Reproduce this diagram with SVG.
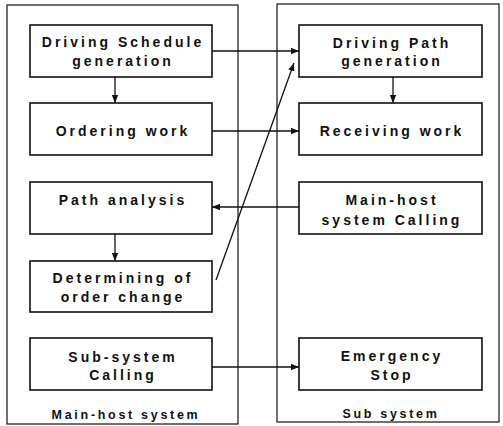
<svg xmlns="http://www.w3.org/2000/svg" width="503" height="426" viewBox="0 0 503 426">
<style>
.cont{fill:none;stroke:#111;stroke-width:1.2}
.box{fill:#fff;stroke:#111;stroke-width:1.6}
.t{font-family:"Liberation Sans",Arial,sans-serif;font-size:14px;font-weight:bold;letter-spacing:3px;fill:#111;text-anchor:middle}
.lbl{font-family:"Liberation Sans",Arial,sans-serif;font-size:12.5px;font-weight:bold;letter-spacing:2.7px;fill:#111;text-anchor:middle}
.c{fill:none;stroke:#111;stroke-width:1.3}
</style>
<defs>
<marker id="ah" viewBox="0 0 10 10" refX="10" refY="5" markerWidth="8" markerHeight="8" markerUnits="userSpaceOnUse" orient="auto">
<path d="M0,1 L10,5 L0,9 Z" fill="#111"/>
</marker>
</defs>
<rect width="503" height="426" fill="#fff"/>
<g id="main-host-system">
<rect class="cont" x="7" y="5" width="231" height="419"/>
<text class="lbl" x="126" y="419">Main-host system</text>
</g>
<g id="sub-system">
<rect class="cont" x="277" y="4" width="222" height="418"/>
<text class="lbl" x="391" y="418">Sub system</text>
</g>
<g id="driving-schedule">
<rect class="box" x="30" y="25" width="182" height="52"/>
<text class="t" x="123" y="47">Driving Schedule</text>
<text class="t" x="123" y="66">generation</text>
</g>
<g id="ordering-work">
<rect class="box" x="30" y="103" width="182" height="52"/>
<text class="t" x="123" y="136">Ordering work</text>
</g>
<g id="path-analysis">
<rect class="box" x="30" y="182" width="182" height="52"/>
<text class="t" x="123" y="205">Path analysis</text>
</g>
<g id="determining">
<rect class="box" x="30" y="261" width="182" height="51"/>
<text class="t" x="123" y="283">Determining of</text>
<text class="t" x="123" y="302">order change</text>
</g>
<g id="subsystem-calling">
<rect class="box" x="30" y="338" width="182" height="52"/>
<text class="t" x="123" y="362">Sub-system</text>
<text class="t" x="123" y="380">Calling</text>
</g>
<g id="driving-path">
<rect class="box" x="299" y="25" width="183" height="52"/>
<text class="t" x="392" y="48">Driving Path</text>
<text class="t" x="392" y="66">generation</text>
</g>
<g id="receiving-work">
<rect class="box" x="299" y="103" width="183" height="52"/>
<text class="t" x="392" y="136">Receiving work</text>
</g>
<g id="mainhost-calling">
<rect class="box" x="299" y="182" width="183" height="52"/>
<text class="t" x="392" y="205">Main-host</text>
<text class="t" x="392" y="225">system Calling</text>
</g>
<g id="emergency-stop">
<rect class="box" x="299" y="338" width="183" height="52"/>
<text class="t" x="392" y="361">Emergency</text>
<text class="t" x="392" y="380">Stop</text>
</g>
<g id="connectors">
<line class="c" x1="212" y1="51" x2="299" y2="51" marker-end="url(#ah)"/>
<line class="c" x1="115" y1="77" x2="115" y2="103" marker-end="url(#ah)"/>
<line class="c" x1="393" y1="77" x2="393" y2="103" marker-end="url(#ah)"/>
<line class="c" x1="212" y1="131" x2="299" y2="131" marker-end="url(#ah)"/>
<line class="c" x1="299" y1="207" x2="212" y2="207" marker-end="url(#ah)"/>
<line class="c" x1="115" y1="234" x2="115" y2="261" marker-end="url(#ah)"/>
<line class="c" x1="216" y1="280" x2="294" y2="63" marker-end="url(#ah)"/>
<line class="c" x1="212" y1="367" x2="299" y2="367" marker-end="url(#ah)"/>
</g>
</svg>
